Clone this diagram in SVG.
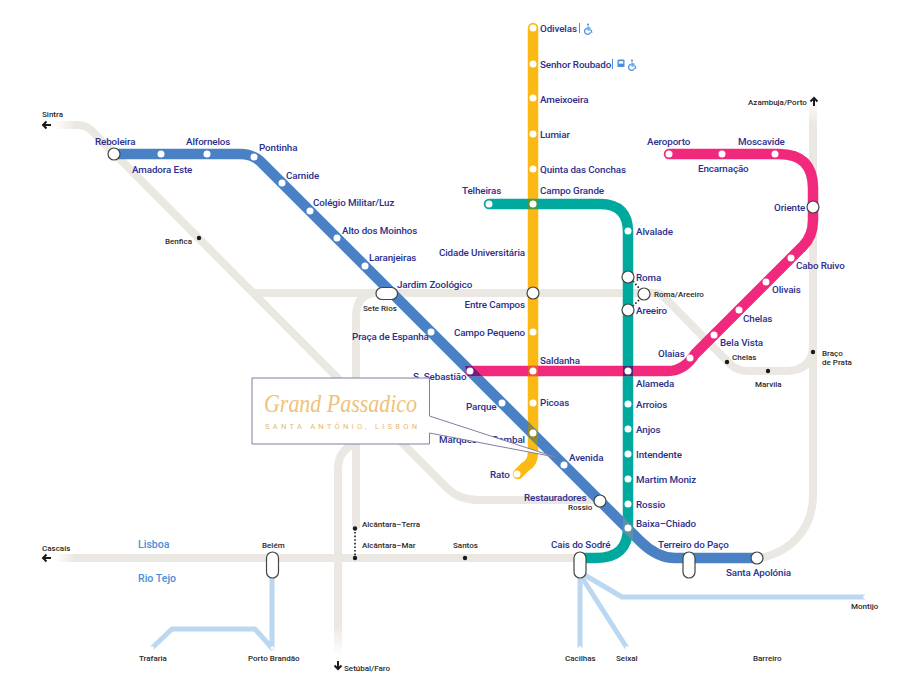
<svg xmlns="http://www.w3.org/2000/svg" width="920" height="696" viewBox="0 0 920 696">
<style>
text{font-family:"Roboto","Liberation Sans",sans-serif}
.n{font-size:9.800px;fill:#2b2e8c;font-weight:500;letter-spacing:-0.1px}
.e{text-anchor:end}
.k{font-size:8px;fill:#2a2a2a;font-weight:500}
.r{font-size:10.600px;fill:#4a90d9;font-weight:500}
.l{fill:none;stroke-width:10.500;stroke-linecap:round;stroke-linejoin:round}
.g{fill:none;stroke:#ebe7e2;stroke-width:8}
.f{fill:none;stroke:#bcd8f0;stroke-width:5;stroke-linejoin:round}
.d{fill:#fff}
.i{fill:#fff;stroke:#444;stroke-width:1.200}
.b{fill:#1a1a1a}
.ic{fill:none;stroke:#4a90d9;stroke-width:1.200}
</style>
<defs>
<linearGradient id="fl" gradientUnits="userSpaceOnUse" x1="54" y1="0" x2="76" y2="0"><stop offset="0" stop-color="#ebe7e2" stop-opacity="0"/><stop offset="1" stop-color="#ebe7e2"/></linearGradient>
<linearGradient id="ft" gradientUnits="userSpaceOnUse" x1="0" y1="100" x2="0" y2="125"><stop offset="0" stop-color="#ebe7e2" stop-opacity="0"/><stop offset="1" stop-color="#ebe7e2"/></linearGradient>
<linearGradient id="fb" gradientUnits="userSpaceOnUse" x1="0" y1="655" x2="0" y2="625"><stop offset="0" stop-color="#ebe7e2" stop-opacity="0"/><stop offset="1" stop-color="#ebe7e2"/></linearGradient>
<g id="al"><path d="M1 0H9M4.500-3.500L1 0L4.500 3.500" fill="none" stroke="#1a1a1a" stroke-width="2"/></g>
<g id="wc"><circle cx="0" cy="-4.500" r="1.100" fill="#4a90d9" stroke="none"/><path class="ic" d="M0-2.800V1H3L4 3.800M-0.200-0.800H2.600M-1-0.600A3 3 0 1 0 2.500 3.200"/></g>
</defs>

<g id="connectors">
<g id="rail">
<path class="g" style="stroke:url(#fl)" d="M54 125.010H76"/>
<path class="g" d="M75 125H78Q88 125 96 135L447 488Q459 500 478 500H600"/>
<path class="g" d="M254 293H655Q661 293 666 299L731 365Q737 371 750 371H785Q813 371 813 345"/>
<path class="g" d="M376 293Q356 293 356 318V528"/>
<path class="g" style="stroke:url(#fb)" d="M338.010 655V625"/>
<path class="g" d="M338 626V470Q338 450 355 444"/>
<path class="g" style="stroke:url(#ft)" d="M813.010 100V125"/>
<path class="g" d="M813 124V495C813 530 790 552 760 558"/>
<path class="g" style="stroke:url(#fl)" d="M54 558.010H76"/>
<path class="g" d="M75 558H580"/>
<path d="M355 532V556" fill="none" stroke="#1a1a1a" stroke-width="1.600" stroke-dasharray="1.600 2"/>
<path d="M633 281L639 288M639 300L633 306" fill="none" stroke="#1a1a1a" stroke-width="1.600" stroke-dasharray="1.600 2"/>
</g>
<g id="ferries">
<path class="f" d="M272 578V648L255 629H172L152 648"/>
<path class="f" d="M580 578V648"/>
<path class="f" d="M581 576L627 648"/>
<path class="f" d="M583 574L622 597H865"/>
</g>
<path id="yellow" class="l" stroke="#fdb913" d="M533 28V452Q533 463 525 467L518 474"/>
<path id="teal" class="l" stroke="#00a99d" d="M489 204H600Q628 204 628 232V528Q628 558 596 558H580"/>
<path id="blue" class="l" stroke="#4a81c4" d="M114 154H240Q252 154 260 161L640 541Q657 558 675 558H757"/>
<path id="pink" class="l" stroke="#f0297c" d="M470 371H668Q684 371 695 354L803 246Q813 236 813 220V188Q813 154 779 154H669"/>
<g id="overlaps">
<rect x="528" y="199" width="10" height="10" fill="#55953c"/>
<path d="M528 422L538 432V446L528 436Z" fill="#8f8a2e"/>
<rect x="528" y="366" width="10" height="10" fill="#e8572e"/>
<rect x="623" y="366" width="10" height="10" fill="#4b2a72"/>
<path d="M465 366H472L482 376H468Z" fill="#6b1f7c"/>
<path d="M623 517L633 527V541L623 531Z" fill="#5a93a4"/>
</g>
</g>

<g id="s-reboleira"><circle class="i" cx="114" cy="154" r="6"/><text class="n" x="95" y="145">Reboleira</text></g>
<g id="s-amadora"><circle class="d" cx="161" cy="154" r="3.500"/><text class="n" x="132" y="173">Amadora Este</text></g>
<g id="s-alfornelos"><circle class="d" cx="207" cy="154" r="3.500"/><text class="n" x="186" y="145">Alfornelos</text></g>
<g id="s-pontinha"><circle class="d" cx="254" cy="157" r="3.500"/><text class="n" x="259" y="151">Pontinha</text></g>
<g id="s-carnide"><circle class="d" cx="282" cy="183" r="3.500"/><text class="n" x="286" y="179">Carnide</text></g>
<g id="s-colegio"><circle class="d" cx="310" cy="211" r="3.500"/><text class="n" x="313" y="206">Colégio Militar/Luz</text></g>
<g id="s-alto"><circle class="d" cx="337" cy="238" r="3.500"/><text class="n" x="342" y="234">Alto dos Moinhos</text></g>
<g id="s-laranjeiras"><circle class="d" cx="365" cy="266" r="3.500"/><text class="n" x="369" y="261">Laranjeiras</text></g>
<g id="s-jardim"><rect class="i" x="376" y="287.500" width="21.500" height="12" rx="6"/><text class="n" x="397" y="288">Jardim Zoológico</text><text class="k" x="363" y="310.500">Sete Rios</text></g>
<g id="s-praca"><circle class="d" cx="431" cy="332" r="3.500"/><text class="n" x="352" y="340">Praça de Espanha</text></g>
<g id="s-sebastiao"><circle class="d" cx="470" cy="371" r="3.500"/><text class="n" x="413" y="379.500">S. Sebastião</text></g>
<g id="s-parque"><circle class="d" cx="502" cy="403" r="3.500"/><text class="n" x="466" y="410">Parque</text></g>
<g id="s-marques"><circle class="d" cx="533" cy="433" r="3.500"/><text class="n e" x="525" y="443">Marquês de Pombal</text></g>
<g id="s-avenida"><circle class="d" cx="564" cy="465" r="3.500"/><text class="n" x="569" y="461">Avenida</text></g>
<g id="s-restauradores"><circle class="i" cx="600" cy="501" r="6"/><text class="n" x="524" y="501">Restauradores</text><text class="k" x="568" y="510">Rossio</text></g>
<g id="s-baixa"><circle class="d" cx="628" cy="528" r="3.500"/><text class="n" x="636" y="527">Baixa–Chiado</text></g>
<g id="s-terreiro"><rect class="i" x="683" y="552" width="12" height="26" rx="6"/><text class="n" x="658" y="548">Terreiro do Paço</text></g>
<g id="s-apolonia"><circle class="i" cx="757" cy="558" r="6"/><text class="n" x="726" y="576">Santa Apolónia</text></g>

<g id="s-odivelas"><circle class="d" cx="533" cy="28" r="3.500"/><text class="n" x="540" y="32">Odivelas</text><path d="M579.500 23V33" stroke="#4a90d9" stroke-width="1"/><use href="#wc" x="588" y="29"/></g>
<g id="s-senhor"><circle class="d" cx="533" cy="64" r="3.500"/><text class="n" x="540" y="68">Senhor Roubado</text><path d="M612.500 59V69" stroke="#4a90d9" stroke-width="1"/><path d="M617.500 60.500Q617.500 59.500 619 59.500H623Q624.500 59.500 624.500 60.500V67H617.500Z" fill="#4a90d9"/><path d="M618.800 61.200H623.200V63.600H618.800Z" fill="#fff"/><use href="#wc" x="632" y="65"/></g>
<g id="s-ameixoeira"><circle class="d" cx="533" cy="98" r="3.500"/><text class="n" x="540" y="102.500">Ameixoeira</text></g>
<g id="s-lumiar"><circle class="d" cx="533" cy="134" r="3.500"/><text class="n" x="540" y="137.500">Lumiar</text></g>
<g id="s-quinta"><circle class="d" cx="533" cy="169" r="3.500"/><text class="n" x="540" y="173">Quinta das Conchas</text></g>
<g id="s-campogrande"><circle class="d" cx="533" cy="204" r="3.500"/><text class="n" x="540" y="194">Campo Grande</text></g>
<g id="s-cidade"><text class="n e" x="525" y="256">Cidade Universitária</text></g>
<g id="s-entrecampos"><circle class="i" cx="533" cy="293" r="6"/><text class="n e" x="525" y="308">Entre Campos</text></g>
<g id="s-campopequeno"><circle class="d" cx="533" cy="332" r="3.500"/><text class="n e" x="525" y="336">Campo Pequeno</text></g>
<g id="s-saldanha"><circle class="d" cx="533" cy="371" r="3.500"/><text class="n" x="540" y="364">Saldanha</text></g>
<g id="s-picoas"><circle class="d" cx="533" cy="403" r="3.500"/><text class="n" x="540" y="406">Picoas</text></g>
<g id="s-rato"><circle class="d" cx="517" cy="474" r="3.500"/><text class="n" x="490" y="478">Rato</text></g>

<g id="s-telheiras"><circle class="d" cx="489" cy="204" r="3.500"/><text class="n" x="462" y="194">Telheiras</text></g>
<g id="s-alvalade"><circle class="d" cx="628" cy="231" r="3.500"/><text class="n" x="636" y="235">Alvalade</text></g>
<g id="s-roma"><circle class="i" cx="628" cy="277" r="6"/><text class="n" x="636" y="281">Roma</text></g>
<g id="s-romaareeiro"><circle class="i" cx="644" cy="294" r="6"/><text class="k" x="654" y="297">Roma/Areeiro</text></g>
<g id="s-areeiro"><circle class="i" cx="628" cy="310" r="6"/><text class="n" x="636" y="314">Areeiro</text></g>
<g id="s-alameda"><circle class="d" cx="628" cy="371" r="3.500"/><text class="n" x="636" y="387">Alameda</text></g>
<g id="s-arroios"><circle class="d" cx="628" cy="404" r="3.500"/><text class="n" x="636" y="408">Arroios</text></g>
<g id="s-anjos"><circle class="d" cx="628" cy="429" r="3.500"/><text class="n" x="636" y="433">Anjos</text></g>
<g id="s-intendente"><circle class="d" cx="628" cy="454" r="3.500"/><text class="n" x="636" y="458">Intendente</text></g>
<g id="s-martim"><circle class="d" cx="628" cy="479" r="3.500"/><text class="n" x="636" y="483">Martim Moniz</text></g>
<g id="s-rossio"><circle class="d" cx="628" cy="504" r="3.500"/><text class="n" x="636" y="507.500">Rossio</text></g>
<g id="s-cais"><rect class="i" x="574" y="552" width="12" height="26" rx="6"/><text class="n" x="551" y="548">Cais do Sodré</text></g>

<g id="s-aeroporto"><circle class="d" cx="669" cy="154" r="3.500"/><text class="n" x="647" y="145">Aeroporto</text></g>
<g id="s-encarnacao"><circle class="d" cx="722" cy="154" r="3.500"/><text class="n" x="698" y="172">Encarnação</text></g>
<g id="s-moscavide"><circle class="d" cx="775" cy="154" r="3.500"/><text class="n" x="738" y="145">Moscavide</text></g>
<g id="s-oriente"><circle class="i" cx="813" cy="207" r="6"/><text class="n" x="774" y="211">Oriente</text></g>
<g id="s-cabo"><circle class="d" cx="791" cy="258" r="3.500"/><text class="n" x="796" y="269">Cabo Ruivo</text></g>
<g id="s-olivais"><circle class="d" cx="766" cy="282" r="3.500"/><text class="n" x="772" y="293">Olivais</text></g>
<g id="s-chelas"><circle class="d" cx="739" cy="310" r="3.500"/><text class="n" x="743" y="322">Chelas</text></g>
<g id="s-bela"><circle class="d" cx="714" cy="335" r="3.500"/><text class="n" x="720" y="346">Bela Vista</text></g>
<g id="s-olaias"><circle class="d" cx="690" cy="358" r="3.500"/><text class="n" x="658" y="357">Olaias</text></g>

<g id="c-azambuja"><text class="k" x="748" y="105">Azambuja/Porto</text><use href="#al" transform="translate(814 97) rotate(90)"/></g>
<g id="c-sintra"><text class="k" x="42" y="117">Sintra</text><use href="#al" transform="translate(42 125)"/></g>
<g id="c-benfica"><circle class="b" cx="199" cy="238" r="2.200"/><text class="k" x="165" y="243.500">Benfica</text></g>
<g id="c-chelas"><circle class="b" cx="727" cy="362" r="2.200"/><text class="k" x="732" y="360">Chelas</text></g>
<g id="c-marvila"><circle class="b" cx="768" cy="371" r="2.200"/><text class="k" x="755" y="387">Marvila</text></g>
<g id="c-braco"><circle class="b" cx="813" cy="352" r="2.200"/><text class="k" x="822" y="355.500">Braço</text><text class="k" x="822" y="364.500">de Prata</text></g>
<g id="c-cascais"><text class="k" x="42" y="551">Cascais</text><use href="#al" transform="translate(42 558)"/></g>
<g id="c-belem"><rect class="i" x="266.500" y="552" width="12" height="26" rx="6"/><text class="k" x="262" y="548">Belém</text></g>
<g id="c-terra"><circle class="b" cx="355" cy="528.500" r="2.200"/><text class="k" x="362" y="527">Alcântara–Terra</text></g>
<g id="c-mar"><circle class="b" cx="355" cy="558" r="2.200"/><text class="k" x="362" y="548">Alcântara–Mar</text></g>
<g id="c-santos"><circle class="b" cx="465" cy="558" r="2.200"/><text class="k" x="453" y="548">Santos</text></g>
<g id="c-setubal"><use href="#al" transform="translate(338 670) rotate(-90)"/><text class="k" x="344" y="670.500">Setúbal/Faro</text></g>
<text class="r" x="138" y="548">Lisboa</text>
<text class="r" x="138" y="582">Rio Tejo</text>
<g id="f-trafaria"><circle class="d" cx="152" cy="648" r="1.800"/><text class="k" x="139" y="661">Trafaria</text></g>
<g id="f-porto"><circle class="d" cx="272.500" cy="648" r="1.800"/><text class="k" x="248" y="661">Porto Brandão</text></g>
<g id="f-cacilhas"><circle class="d" cx="580" cy="648" r="1.800"/><text class="k" x="565" y="661">Cacilhas</text></g>
<g id="f-seixal"><circle class="d" cx="627" cy="648" r="1.800"/><text class="k" x="616" y="661">Seixal</text></g>
<g id="f-barreiro"><text class="k" x="753" y="661">Barreiro</text></g>
<g id="f-montijo"><circle class="d" cx="865" cy="597" r="1.800"/><text class="k" x="851" y="609">Montijo</text></g>

<g id="callout">
<path d="M252 378H429.500V416L555 457L429.500 433V444H252Z" fill="#fff" stroke="#7f7f9f" stroke-width="1"/>
<text x="264" y="412" textLength="153" lengthAdjust="spacingAndGlyphs" style="font-family:'Liberation Serif',serif;font-style:italic;font-size:25px;fill:#efc27a">Grand Passadico</text>
<text x="265" y="429" textLength="152" style="font-size:7.500px;font-weight:400;fill:#e9b868">SANTA ANTÓNIO, LISBON</text>
</g>
</svg>
